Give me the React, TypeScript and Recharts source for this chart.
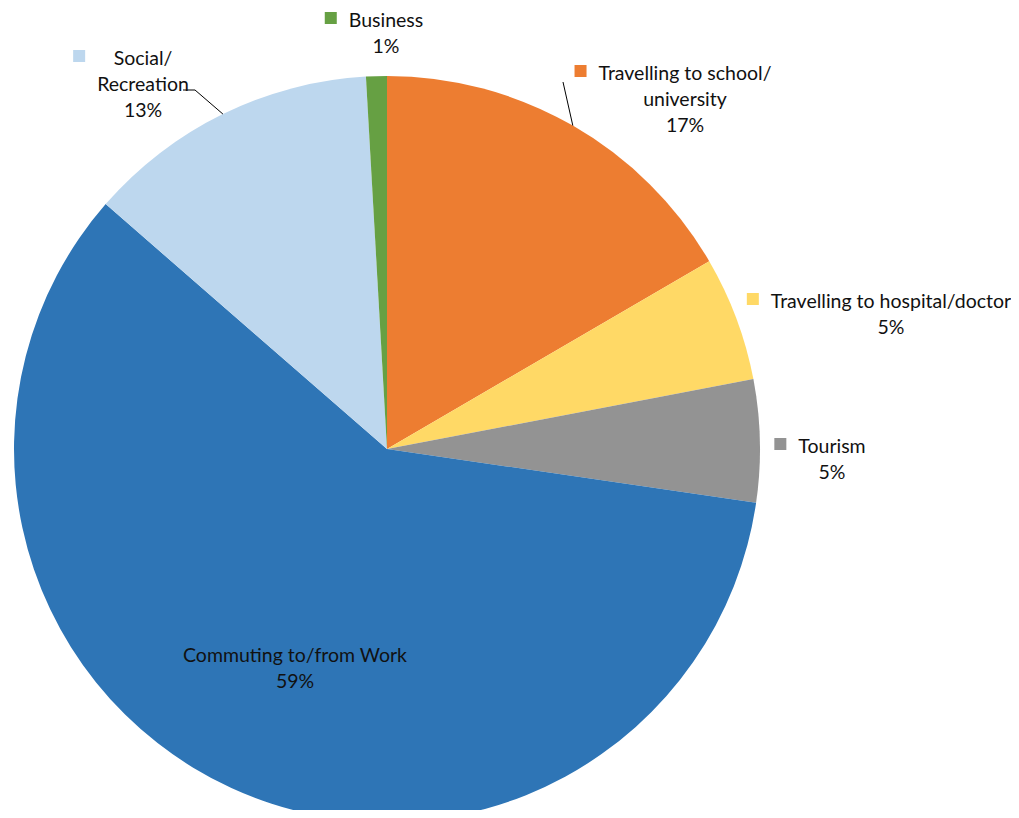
import { PieChart, Pie, Cell } from 'recharts';

const categories = [
  'Travelling to school/university',
  'Travelling to hospital/doctor',
  'Tourism',
  'Commuting to/from Work',
  'Social/Recreation',
  'Business',
];
const labelLines = [
  ['Travelling to school/', 'university'],
  ['Travelling to hospital/doctor'],
  ['Tourism'],
  ['Commuting to/from Work'],
  ['Social/', 'Recreation'],
  ['Business'],
];
const shares = [16.6, 5.4, 5.3, 59.1, 12.7, 0.9];
const colors = ['#ED7D31', '#FFD966', '#939393', '#2E75B6', '#BDD7EE', '#66A043'];

const data = categories.map((name, i) => ({ name, value: shares[i] }));

// where each data label sits, relative to the pie centre (first baseline, centred)
const labelLayout = [
  { dx: 298, dy: -369, showKey: true, leader: [[-122, 2]] },
  { dx: 504, dy: -141, showKey: true, leader: null },
  { dx: 445, dy: 4, showKey: true, leader: null },
  { dx: -92, dy: 213, showKey: false, leader: null },
  { dx: -244, dy: -384, showKey: true, leader: [[52, 25], [40, 25]] },
  { dx: -1, dy: -422, showKey: true, leader: null },
];

const FONT = 'Lato';
const FONT_SIZE = 19.5;
const LINE_H = 26;
const RAD = Math.PI / 180;

let ctx: CanvasRenderingContext2D | null = null;
function textWidth(s: string) {
  if (!ctx) ctx = document.createElement('canvas').getContext('2d');
  if (!ctx) return s.length * FONT_SIZE * 0.5;
  ctx.font = `${FONT_SIZE}px ${FONT}`;
  return ctx.measureText(s).width;
}

function renderLabel(props: any) {
  const { cx, cy, midAngle, outerRadius, percent, index } = props;
  const layout = labelLayout[index];
  const lines = [...labelLines[index], `${Math.round(percent * 100)}%`];
  const lx = cx + layout.dx;
  const ly = cy + layout.dy;
  const maxW = Math.max(...lines.map(textWidth));

  let leader = null;
  if (layout.leader) {
    const ex = cx + outerRadius * Math.cos(-midAngle * RAD);
    const ey = cy + outerRadius * Math.sin(-midAngle * RAD);
    const pts = [[ex, ey], ...layout.leader.map(([px, py]) => [lx + px, ly + py])];
    leader = (
      <polyline
        points={pts.map((p) => p.join(',')).join(' ')}
        fill="none"
        stroke="#000"
        strokeWidth={1}
      />
    );
  }

  return (
    <g key={`label-${index}`}>
      {leader}
      {layout.showKey && (
        <rect x={lx - maxW / 2 - 24} y={ly - 15} width={12} height={12} fill={colors[index]} />
      )}
      {lines.map((t, i) => (
        <text
          key={i}
          x={lx}
          y={ly + i * LINE_H}
          textAnchor="middle"
          fontFamily={FONT}
          fontSize={FONT_SIZE}
          fill="#111"
        >
          {t}
        </text>
      ))}
    </g>
  );
}

export default function App() {
  return (
    <div style={{ width: 1011, height: 810, marginBottom: -8 }}>
      <PieChart width={1011} height={810} margin={{ top: 0, right: 0, bottom: 0, left: 0 }}>
        <Pie
          data={data}
          dataKey="value"
          nameKey="name"
          cx={379}
          cy={441}
          outerRadius={373}
          startAngle={90}
          endAngle={-270}
          stroke="none"
          labelLine={false}
          label={renderLabel}
          isAnimationActive={false}
        >
          {data.map((d, i) => (
            <Cell key={d.name} fill={colors[i]} />
          ))}
        </Pie>
      </PieChart>
    </div>
  );
}
